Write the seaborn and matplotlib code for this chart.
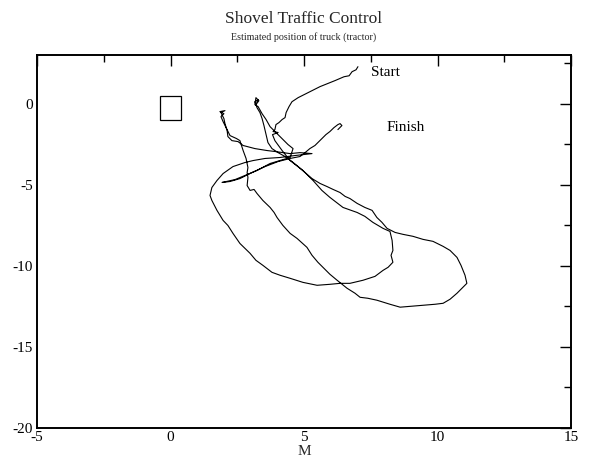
import numpy as np
import pandas as pd
import matplotlib
matplotlib.use("Agg")
import matplotlib.pyplot as plt
import seaborn as sns
from matplotlib.patches import Rectangle
from matplotlib.ticker import MultipleLocator

# Estimated truck position (x east, y north), in drive order
track_x = [
    7.02, 6.95, 6.80, 6.69, 6.50, 6.16, 5.60, 5.15, 4.78, 4.55, 4.44, 4.33, 4.29, 4.18, 4.06, 3.95, 3.91, 3.84, 4.03, 3.82,
    3.91, 4.18, 4.48, 4.96, 5.34, 5.67, 5.97, 6.46, 6.99, 7.28, 7.58, 7.96, 8.22,
    8.30, 8.33, 8.26, 8.33, 8.15, 7.96, 7.66, 7.21, 6.72, 6.35, 5.97, 5.49, 4.96, 4.48, 4.10, 3.80, 3.46, 3.20, 2.98,
    2.60, 2.34, 2.15, 1.97, 1.74, 1.55, 1.48, 1.55, 1.74, 1.97, 2.34, 2.79, 3.09, 3.54, 4.10, 4.66, 5.30,
    4.85, 4.48, 3.91, 3.61, 3.16, 2.72, 2.53, 2.30, 2.15, 2.12, 2.04, 2.00,
    1.89, 2.04, 1.85, 2.00, 1.89, 1.97,
    2.23, 2.47, 2.60, 2.72, 2.83, 2.90, 2.87, 2.90, 2.87, 2.98, 3.13, 3.24, 3.46, 3.73, 3.88, 3.99, 4.21, 4.48, 4.74,
    5.11, 5.30, 5.52, 5.71, 5.97, 6.24, 6.61, 6.91, 7.10, 7.39, 7.73, 8.22, 8.60, 9.04, 9.46, 9.91, 10.21, 10.47,
    10.73, 10.92, 11.10, 11.03, 10.88, 10.73, 10.47, 10.21, 9.83, 9.46, 9.08, 8.71, 8.41, 8.11, 7.92, 7.73, 7.55,
    7.28, 6.99, 6.72, 6.54, 6.35, 6.09, 5.86, 5.60,
    5.30, 5.04, 4.78, 4.55, 4.29, 4.03, 3.80, 3.65, 3.58, 3.50, 3.43, 3.35, 3.24,
    3.16, 3.28, 3.20, 3.31, 3.20, 3.16, 3.28,
    3.43, 3.58, 3.73, 3.99, 4.21, 4.40, 4.59,
    4.48, 4.10, 3.73, 3.24, 2.79, 2.42, 1.93, 2.23, 2.60, 3.05, 3.54, 4.03, 4.48, 4.85,
    5.04, 5.22, 5.41, 5.67, 5.82, 5.97, 6.12, 6.27, 6.35, 6.42, 6.27,
]
track_y = [
    2.28, 2.09, 1.97, 1.72, 1.66, 1.42, 1.05, 0.68, 0.37, 0.12, -0.18, -0.55, -0.86, -0.98, -1.17, -1.29, -1.60, -1.72, -1.78, -1.91,
    -2.28, -2.89, -3.51, -4.12, -4.74, -5.35, -5.78, -6.40, -6.71, -6.95, -7.32, -7.69, -7.88,
    -8.43, -9.05, -9.35, -9.78, -10.09, -10.28, -10.65, -10.89, -11.08, -11.08, -11.14, -11.20, -11.02, -10.77, -10.58, -10.40, -9.97, -9.66, -9.23,
    -8.62, -8.00, -7.51, -7.20, -6.58, -5.97, -5.66, -5.17, -4.74, -4.31, -3.88, -3.63, -3.51, -3.38, -3.32, -3.20, -3.08,
    -3.02, -3.08, -2.95, -2.89, -2.77, -2.58, -2.34, -2.28, -2.03, -1.66, -1.23, -0.92,
    -0.55, -0.43, -0.49, -0.62, -0.80, -1.11,
    -1.97, -2.15, -2.28, -2.89, -3.38, -3.94, -4.25, -4.55, -5.05, -5.35, -5.29, -5.54, -5.97, -6.40, -6.71, -7.02, -7.51, -8.00, -8.31,
    -8.86, -9.35, -9.78, -10.09, -10.52, -10.89, -11.38, -11.69, -11.94, -12.00, -12.12, -12.37, -12.55, -12.49, -12.43, -12.37, -12.31, -12.06,
    -11.69, -11.38, -11.08, -10.58, -9.97, -9.48, -9.05, -8.80, -8.49, -8.37, -8.18, -8.06, -7.94, -7.69, -7.32, -7.02, -6.58,
    -6.40, -6.15, -5.85, -5.72, -5.48, -5.29, -5.11, -4.92,
    -4.62, -4.25, -3.88, -3.57, -3.26, -3.02, -2.77, -2.40, -1.91, -1.35, -0.92, -0.55, -0.25,
    0.12, 0.25, -0.06, 0.18, 0.37, -0.06, -0.18,
    -0.62, -0.98, -1.42, -1.85, -2.22, -2.52, -2.77,
    -3.32, -3.51, -3.69, -4.12, -4.43, -4.68, -4.86, -4.80, -4.62, -4.25, -3.88, -3.57, -3.38, -3.26,
    -3.02, -2.77, -2.58, -2.15, -1.91, -1.72, -1.48, -1.29, -1.23, -1.35, -1.60,
]

# Shovel box (lower-left corner, width, height)
shovel_box = (-0.40, -1.00, 0.80, 1.50)

# Annotations
label_text = ["Start", "Finish"]
label_x = [7.5, 8.1]
label_y = [1.9, -1.45]

x_ticks = [-5, 0, 5, 10, 15]
y_ticks = [-20, -15, -10, -5, 0]

sns.set_theme(style="white")
plt.rcParams["font.family"] = ["Liberation Serif", "DejaVu Serif"]
plt.rcParams["axes.unicode_minus"] = False

df = pd.DataFrame({"x": track_x, "y": track_y})

fig = plt.figure(figsize=(5.91, 4.66), dpi=100)
ax = fig.add_axes([37 / 591, 1 - 428 / 466, 534 / 591, 373 / 466])

sns.lineplot(data=df, x="x", y="y", sort=False, estimator=None, color="black", linewidth=0.8, ax=ax)

ax.add_patch(Rectangle(shovel_box[:2], shovel_box[2], shovel_box[3], fill=False, edgecolor="black", linewidth=0.9))

for t, lx, ly in zip(label_text, label_x, label_y):
    ax.text(lx, ly, t, fontsize=11, color="black", va="center", ha="left")

ax.set_xlim(-5, 15)
ax.set_ylim(-20, 3)
ax.set_xticks(x_ticks)
ax.set_yticks(y_ticks)
ax.xaxis.set_minor_locator(MultipleLocator(2.5))
ax.yaxis.set_minor_locator(MultipleLocator(2.5))
ax.tick_params(which="both", direction="in", top=True, right=True, colors="black", labelsize=11, width=1.0)
ax.tick_params(which="major", length=8, pad=2)
ax.tick_params(axis="y", which="major", pad=3)
ax.tick_params(which="minor", length=5)
for s in ax.spines.values():
    s.set_color("black")
    s.set_linewidth(1.4)

ax.set_xlabel("M", fontsize=11, labelpad=1)
ax.set_ylabel("")

fig.text(0.5 * (37 + 571) / 591, 1 - 19 / 466, "Shovel Traffic Control", ha="center", va="center", fontsize=12.5)
fig.text(0.5 * (37 + 571) / 591, 1 - 37 / 466, "Estimated position of truck (tractor)", ha="center", va="center", fontsize=7.2)

fig.savefig("out.png", dpi=100)
